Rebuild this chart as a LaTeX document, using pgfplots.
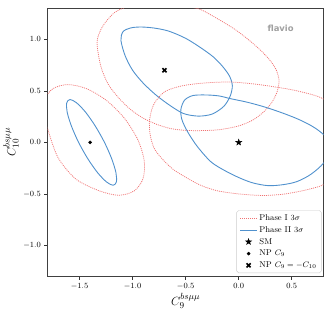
\documentclass[border=0pt]{standalone}
\usepackage{fontspec}
\newfontfamily\djv{DejaVu Sans}
\usepackage{pgfplots}
\pgfplotsset{compat=1.18}
\definecolor{pone}{RGB}{240,115,115}
\definecolor{ptwo}{RGB}{80,145,205}
\definecolor{flv}{RGB}{160,160,160}
\pgfdeclareplotmark{fstar}{%
  \pgfpathmoveto{\pgfpointpolar{90}{\pgfplotmarksize}}%
  \pgfpathlineto{\pgfpointpolar{126}{0.4\pgfplotmarksize}}%
  \pgfpathlineto{\pgfpointpolar{162}{\pgfplotmarksize}}%
  \pgfpathlineto{\pgfpointpolar{198}{0.4\pgfplotmarksize}}%
  \pgfpathlineto{\pgfpointpolar{234}{\pgfplotmarksize}}%
  \pgfpathlineto{\pgfpointpolar{270}{0.4\pgfplotmarksize}}%
  \pgfpathlineto{\pgfpointpolar{306}{\pgfplotmarksize}}%
  \pgfpathlineto{\pgfpointpolar{342}{0.4\pgfplotmarksize}}%
  \pgfpathlineto{\pgfpointpolar{18}{\pgfplotmarksize}}%
  \pgfpathlineto{\pgfpointpolar{54}{0.4\pgfplotmarksize}}%
  \pgfpathclose\pgfusepathqfillstroke}
\begin{document}
\begin{tikzpicture}
\begin{axis}[
  scale only axis, width=278pt, height=270pt,
  xmin=-1.8, xmax=0.8, ymin=-1.3, ymax=1.3,
  xtick={-1.5,-1,-0.5,0,0.5}, ytick={-1,-0.5,0,0.5,1},
  /pgf/number format/fixed, /pgf/number format/fixed zerofill, /pgf/number format/precision=1,
  tick align=outside, tick pos=left,
  major tick length=3.5pt,
  every tick/.style={black!80, line width=0.6pt},
  axis line style={line width=0.8pt, draw=black!75},
  tick label style={font=\fontsize{8.3}{9}\selectfont},
  xlabel={$C_9^{bs\mu\mu}$}, ylabel={$C_{10}^{bs\mu\mu}$},
  label style={font=\fontsize{13}{15}\selectfont},
  xlabel style={yshift=3pt},
  ylabel style={yshift=-2pt},
  legend cell align=left,
  legend style={at={(rel axis cs:0.993,0.012)}, anchor=south east,
    draw=black!20, rounded corners=2pt, fill=white,
    font=\fontsize{8.5}{10}\selectfont, row sep=0.5pt},
  contour/.style={legend image code/.code={\draw[##1] (0cm,0cm) -- (0.6cm,0cm);}},
]
% Phase I, NP C9
\addplot[pone, line width=0.75pt, dash pattern=on 1pt off 1pt, smooth cycle, contour] coordinates {
(-1.830,0.260) (-1.837,0.404) (-1.753,0.520) (-1.610,0.561) (-1.431,0.520)
(-1.243,0.404) (-1.074,0.230) (-0.950,0.024) (-0.890,-0.182) (-0.903,-0.356)
(-0.987,-0.472) (-1.130,-0.513) (-1.309,-0.472) (-1.530,-0.360) (-1.690,-0.170)
(-1.770,0.030)};
\addlegendentry{Phase I $3\sigma$}
% Phase II, NP C9
\addplot[ptwo, line width=0.9pt, smooth cycle, contour] coordinates {
(-1.590,0.416) (-1.528,0.384) (-1.444,0.294) (-1.352,0.159) (-1.265,0)
(-1.197,-0.159) (-1.157,-0.294) (-1.153,-0.384) (-1.184,-0.416) (-1.246,-0.384)
(-1.330,-0.294) (-1.422,-0.159) (-1.509,0) (-1.577,0.159) (-1.617,0.294)
(-1.621,0.384)};
\addlegendentry{Phase II $3\sigma$}
% Phase I, NP C9=-C10
\addplot[pone, line width=0.75pt, dash pattern=on 1pt off 1pt, smooth cycle, forget plot] coordinates {
(-0.65,1.335) (-0.48,1.315) (-0.36,1.29) (-0.20,1.20) (-0.04,1.10) (0.10,0.99)
(0.21,0.89) (0.30,0.79) (0.355,0.70) (0.38,0.60) (0.365,0.50) (0.32,0.40)
(0.24,0.30) (0.13,0.215) (0.0,0.16) (-0.17,0.125) (-0.32,0.115) (-0.47,0.115)
(-0.62,0.13) (-0.76,0.17) (-0.90,0.235) (-1.02,0.32) (-1.13,0.43) (-1.23,0.565)
(-1.30,0.74) (-1.335,0.96) (-1.31,1.07) (-1.26,1.16) (-1.17,1.26) (-1.05,1.315)
(-0.85,1.335)};
% Phase II, NP C9=-C10
\addplot[ptwo, line width=0.9pt, smooth cycle, forget plot] coordinates {
(-1.11,0.99) (-1.09,1.075) (-1.02,1.11) (-0.93,1.12) (-0.80,1.11) (-0.66,1.08)
(-0.50,1.01) (-0.36,0.92) (-0.24,0.83) (-0.15,0.735) (-0.085,0.64) (-0.06,0.55)
(-0.08,0.45) (-0.14,0.35) (-0.25,0.275) (-0.38,0.255) (-0.52,0.28) (-0.65,0.36)
(-0.78,0.46) (-0.90,0.575) (-1.00,0.70) (-1.07,0.84)};
% Phase I, SM
\addplot[pone, line width=0.75pt, dash pattern=on 1pt off 1pt, smooth cycle, forget plot] coordinates {
(0.96,0.02) (0.93,-0.18) (0.86,-0.33) (0.80,-0.41) (0.68,-0.45) (0.55,-0.48)
(0.40,-0.505) (0.22,-0.515) (0.0,-0.50) (-0.20,-0.47) (-0.35,-0.42) (-0.48,-0.35)
(-0.62,-0.26) (-0.73,-0.15) (-0.80,-0.05) (-0.835,0.08) (-0.84,0.22) (-0.80,0.37)
(-0.70,0.49) (-0.55,0.545) (-0.39,0.57) (-0.22,0.583) (-0.06,0.585) (0.12,0.57)
(0.30,0.545) (0.55,0.50) (0.80,0.42) (0.92,0.25)};
% Phase II, SM
\addplot[ptwo, line width=0.9pt, smooth cycle, forget plot] coordinates {
(0.86,-0.06) (0.80,-0.20) (0.68,-0.31) (0.55,-0.38) (0.42,-0.41) (0.28,-0.42)
(0.14,-0.395) (0.02,-0.35) (-0.12,-0.28) (-0.26,-0.19) (-0.39,-0.04) (-0.48,0.10)
(-0.535,0.22) (-0.545,0.32) (-0.51,0.41) (-0.43,0.455) (-0.30,0.46) (-0.18,0.45)
(-0.08,0.425) (0.08,0.39) (0.24,0.345) (0.40,0.29) (0.55,0.23) (0.67,0.17)
(0.76,0.11) (0.83,0.04)};
% points
\addplot[only marks, mark=fstar, mark size=3.2pt, black] coordinates {(0,0)};
\addlegendentry{SM}
\addplot[only marks, mark=*, mark size=1.6pt, black] coordinates {(-1.4,0)};
\addlegendentry{NP $C_9$}
\addplot[only marks, mark=x, mark size=2.9pt, black, line width=1.6pt] coordinates {(-0.7,0.7)};
\addlegendentry{NP $C_9=-C_{10}$}
\node[text=flv, font=\djv\bfseries\fontsize{8.5}{10}\selectfont] at (axis cs:0.395,1.106) {flavio};
\end{axis}
\path ([shift={(-46pt,-37.5pt)}]current axis.south west) rectangle ([shift={(9.5pt,8.5pt)}]current axis.north east);
\end{tikzpicture}
\end{document}
